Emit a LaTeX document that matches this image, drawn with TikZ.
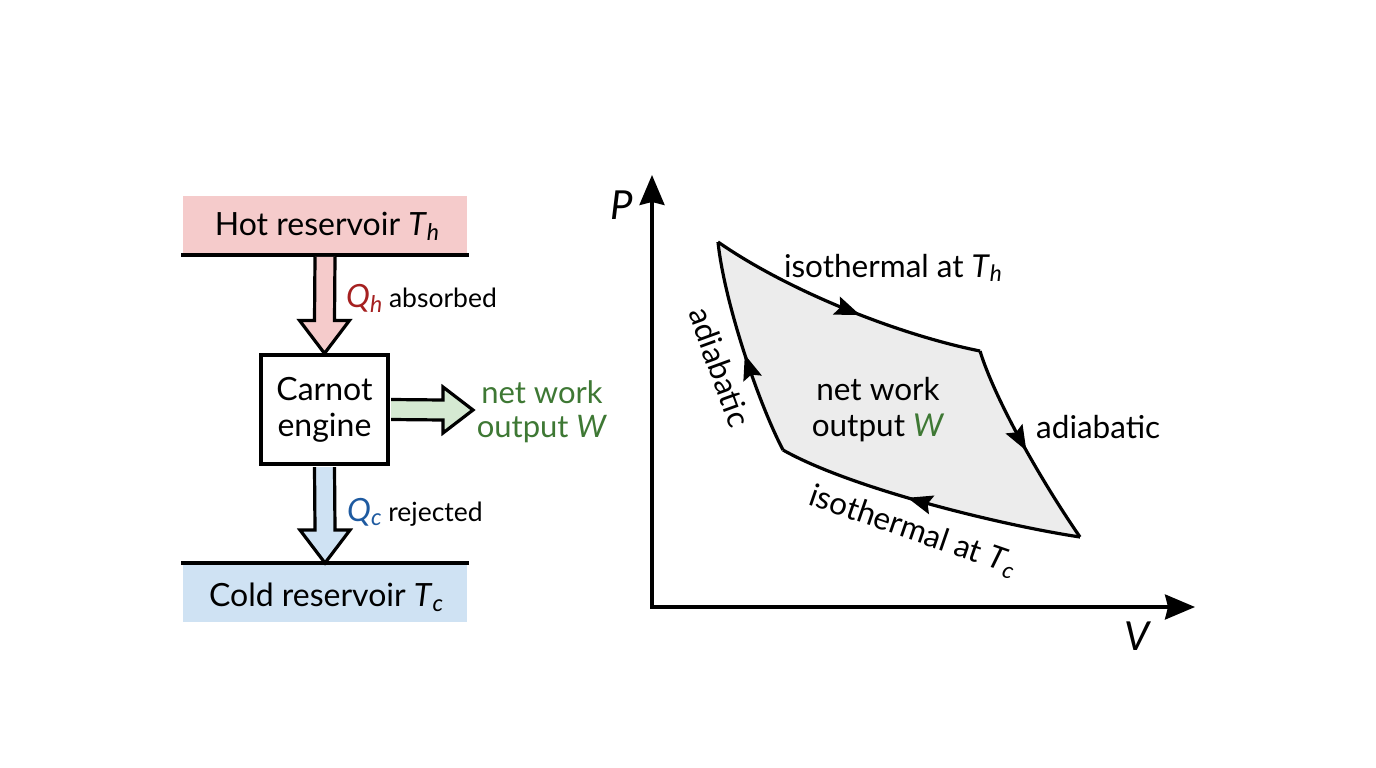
\documentclass[tikz,border=0pt]{standalone}
\usepackage{fontspec}
\setmainfont{Lato}
\usetikzlibrary{calc,arrows.meta,decorations.markings}
\definecolor{hotfill}{RGB}{245,203,203}
\definecolor{coldfill}{RGB}{207,226,243}
\definecolor{workfill}{RGB}{213,233,210}
\definecolor{cyclefill}{RGB}{236,236,236}
\definecolor{hotred}{RGB}{165,32,32}
\definecolor{coldblue}{RGB}{30,90,160}
\definecolor{workgreen}{RGB}{62,120,52}
\newcommand\tsub[2]{\textit{#1}\raisebox{-0.3ex}{\scalebox{0.72}{\textit{#2}}}}
\newcommand\fs[2]{\fontsize{#1}{#2}\selectfont}
\begin{document}
\begin{tikzpicture}[x=1pt,y=-1pt,
  res/.style={minimum width=284pt,minimum height=59pt,inner sep=0pt,anchor=north},
  resline/.style={line width=3.6pt},
  blockarrow/.style={line width=3.2pt,line join=miter},
  enginebox/.style={draw,line width=3.2pt,fill=white,minimum width=127pt,minimum height=109pt,inner sep=0pt,align=center,font=\fs{32}{36}},
  lbl/.style={inner sep=0pt,font=\fs{26.5}{30}},
  pvlbl/.style={inner sep=0pt,font=\fs{31.5}{36}},
  axis/.style={line width=3.2pt,-{Stealth[length=30pt,width=25pt,inset=3pt]}},
  cyc/.style={line width=3.2pt,line join=miter},
  midarrow/.style={postaction={decorate},decoration={markings,mark=at position #1 with {\arrow{Stealth[length=25pt,width=19pt,inset=4pt]}}}}
]
\useasboundingbox (0,0) rectangle (1376,768);

% ---------- left: engine schematic ----------
\node[res,fill=hotfill,anchor=south] (hot) at (325,255) {};
\node[font=\fs{32}{36},inner sep=0pt] (hotlbl) at (327,226) {Hot reservoir \tsub{T}{h}};
\draw[resline] (181,255) -- (469,255);

\node[enginebox] (engine) at (324.5,409.5) {Carnot\\engine};

\node[res,fill=coldfill] (cold) at (325,563) {};
\node[font=\fs{32}{36},inner sep=0pt] (coldlbl) at (326,597) {Cold reservoir \tsub{T}{c}};
\draw[resline] (181,563) -- (469,563);

% hot heat arrow
\path[blockarrow,fill=hotfill,draw]
  ($(hot.south)+(-10,1.8)$) -- ($(engine.north)+(-10,-33)$) -- ($(engine.north)+(-25,-33)$)
  -- (engine.north) -- ($(engine.north)+(25,-33)$) -- ($(engine.north)+(10,-33)$) -- ($(hot.south)+(10,1.8)$);
% cold heat arrow
\path[blockarrow,fill=coldfill,draw]
  ($(engine.south)+(-10,1.6)$) -- ($(cold.north)+(-10,-33)$) -- ($(cold.north)+(-25,-33)$)
  -- (cold.north) -- ($(cold.north)+(25,-33)$) -- ($(cold.north)+(10,-33)$) -- ($(engine.south)+(10,1.6)$);
% work arrow
\coordinate (wtip) at (473,410);
\path[blockarrow,fill=workfill,draw]
  ($(engine.east)+(1.6,-10)$) -- ($(wtip)+(-30,-10)$) -- ($(wtip)+(-30,-23)$)
  -- (wtip) -- ($(wtip)+(-30,23)$) -- ($(wtip)+(-30,10)$) -- ($(engine.east)+(1.6,10)$);

\node[lbl,anchor=west] (qh) at (346,298) {\textcolor{hotred}{\fs{32}{36}\tsub{Q}{h}} absorbed};
\node[lbl,anchor=west] (qc) at (347,512) {\textcolor{coldblue}{\fs{32}{36}\tsub{Q}{c}} rejected};
\node[inner sep=0pt,align=center,font=\fs{31}{34},text=workgreen] (wlbl) at (542,412) {net work\\output \textit{W}};

% ---------- right: P-V diagram ----------
\coordinate (O) at (652,607);
\coordinate (Ptip) at (652,175);
\coordinate (Vtip) at (1195,607);
\draw[axis] (O) -- (Ptip);
\draw[axis] ($(O)+(-1.6,0)$) -- (Vtip);
\node[inner sep=0pt,font=\fs{40}{44}] (Plbl) at (622,205) {\textit{P}};
\node[inner sep=0pt,font=\fs{40}{44}] (Vlbl) at (1138,636) {\textit{V}};

\coordinate (A) at (718,242);
\coordinate (B) at (980,351);
\coordinate (C) at (1080,537);
\coordinate (D) at (783,450);

\fill[cyclefill] (A) .. controls (790,292) and (900,335) .. (B)
  .. controls (995,400) and (1042,482) .. (C)
  .. controls (1000,525) and (850,488) .. (D)
  .. controls (757,400) and (724,300) .. (A) -- cycle;
\draw[cyc,midarrow=0.56] (A) .. controls (790,292) and (900,335) .. (B);
\draw[cyc,midarrow=0.52] (B) .. controls (995,400) and (1042,482) .. (C);
\draw[cyc,midarrow=0.57] (C) .. controls (1000,525) and (850,488) .. (D);
\draw[cyc,midarrow=0.47] (D) .. controls (757,400) and (724,300) .. (A);

\node[pvlbl] (isoh) at (893,268) {isothermal at \tsub{T}{h}};
\node[pvlbl,anchor=west] (adr) at (1036,427) {adiabatic};
\node[pvlbl,rotate=-70] (adl) at (720,367) {adiabatic};
\node[pvlbl,rotate=-19] (isoc) at (913,531) {isothermal at \tsub{T}{c}};
\node[pvlbl,align=center] (wcyc) at (878,410) {net work\\output \textcolor{workgreen}{\textit{W}}};
\end{tikzpicture}
\end{document}
